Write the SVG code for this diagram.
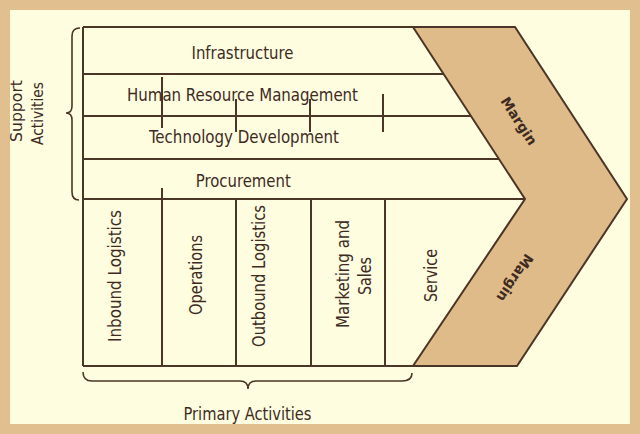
<svg xmlns="http://www.w3.org/2000/svg" width="640" height="434" viewBox="0 0 640 434">
<style>
.ln{stroke:#4a3526;stroke-width:2;fill:none}
.br{stroke:#4a3526;stroke-width:1.6;fill:none}
.t{font-family:"DejaVu Sans Condensed","DejaVu Sans",sans-serif;font-size:17px;fill:#3d2b1f;text-anchor:middle}
.s{font-family:"DejaVu Sans Condensed","DejaVu Sans",sans-serif;font-size:15px;fill:#3d2b1f;text-anchor:middle}
.m{font-family:"DejaVu Sans","Liberation Sans",sans-serif;font-size:14px;font-weight:bold;fill:#3d2b1f;text-anchor:middle}
</style>
<rect x="0" y="0" width="640" height="434" fill="#e2bf8e"/>
<rect x="10" y="10" width="620" height="414" fill="#fffde0"/>
<g id="margin">
<polygon points="413,27 515,27 627,199 517,366 413,366 525,199" fill="#dfbb8a" stroke="#4a3526" stroke-width="2" stroke-linejoin="miter"/>
<text class="m" transform="translate(519,121) rotate(57)" dy="5" textLength="54" lengthAdjust="spacingAndGlyphs">Margin</text>
<text class="m" transform="translate(515,278) rotate(123.4)" dy="5" textLength="54" lengthAdjust="spacingAndGlyphs">Margin</text>
</g>
<g id="connectors">
<line class="ln" x1="83" y1="27" x2="515" y2="27"/>
<line class="ln" x1="83" y1="27" x2="83" y2="366"/>
<line class="ln" x1="83" y1="74" x2="443.6" y2="74"/>
<line class="ln" x1="83" y1="116" x2="471" y2="116"/>
<line class="ln" x1="83" y1="159" x2="499" y2="159"/>
<line class="ln" x1="83" y1="199" x2="525" y2="199"/>
<line class="ln" x1="83" y1="366" x2="517" y2="366"/>
<line class="ln" x1="162" y1="188" x2="162" y2="366"/>
<line class="ln" x1="236" y1="199" x2="236" y2="366"/>
<line class="ln" x1="311" y1="199" x2="311" y2="366"/>
<line class="ln" x1="385" y1="199" x2="385" y2="366"/>
<line class="ln" x1="162" y1="77" x2="162" y2="128"/>
<line class="ln" x1="236" y1="99" x2="236" y2="132"/>
<line class="ln" x1="310" y1="99" x2="310" y2="132"/>
<line class="ln" x1="383" y1="94" x2="383" y2="132"/>
<path class="br" d="M80,28 Q72,28 72,36 L72,106 Q72,113 66,113 Q72,113 72,120 L72,192 Q72,200 79,200"/>
<path class="br" d="M83,372 Q83,381 92,381 L240,381 Q248,381 248,389 Q248,381 256,381 L402,381 Q412,381 412,373"/>
</g>
<g id="infrastructure"><text class="t" x="242.5" y="59" textLength="102" lengthAdjust="spacingAndGlyphs">Infrastructure</text></g>
<g id="hrm"><text class="t" x="242.5" y="101" textLength="231" lengthAdjust="spacingAndGlyphs">Human Resource Management</text></g>
<g id="technology"><text class="t" x="244" y="143" textLength="190" lengthAdjust="spacingAndGlyphs">Technology Development</text></g>
<g id="procurement"><text class="t" x="243.3" y="186.5" textLength="95" lengthAdjust="spacingAndGlyphs">Procurement</text></g>
<g id="inbound"><text class="t" transform="translate(121,276) rotate(-90)" textLength="132" lengthAdjust="spacingAndGlyphs">Inbound Logistics</text></g>
<g id="operations"><text class="t" transform="translate(202,275) rotate(-90)" textLength="80" lengthAdjust="spacingAndGlyphs">Operations</text></g>
<g id="outbound"><text class="t" transform="translate(265,276) rotate(-90)" textLength="142" lengthAdjust="spacingAndGlyphs">Outbound Logistics</text></g>
<g id="marketing"><text class="t" transform="translate(349,274) rotate(-90)" textLength="108" lengthAdjust="spacingAndGlyphs">Marketing and</text><text class="t" transform="translate(371,276) rotate(-90)" textLength="38" lengthAdjust="spacingAndGlyphs">Sales</text></g>
<g id="service"><text class="t" transform="translate(437,275.5) rotate(-90)" textLength="53" lengthAdjust="spacingAndGlyphs">Service</text></g>
<g id="support"><text class="s" transform="translate(22,111) rotate(-90)" textLength="62" lengthAdjust="spacingAndGlyphs">Support</text><text class="s" transform="translate(43,113.5) rotate(-90)" textLength="63" lengthAdjust="spacingAndGlyphs">Activities</text></g>
<g id="primary"><text class="t" x="247.5" y="420" textLength="128" lengthAdjust="spacingAndGlyphs">Primary Activities</text></g>
</svg>
